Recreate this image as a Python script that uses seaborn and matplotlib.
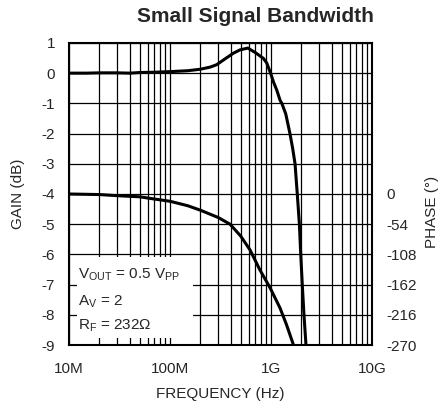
import matplotlib
matplotlib.use("Agg")
import matplotlib.pyplot as plt
from matplotlib.patches import Rectangle
from matplotlib.ticker import LogLocator, FixedLocator, FixedFormatter, NullFormatter
import seaborn as sns
import pandas as pd

# Gain response (frequency in Hz, gain in dB)
gain_freq = [10e6, 15e6, 20e6, 30e6, 40e6, 50e6, 70e6, 100e6, 150e6, 200e6,
             250e6, 290e6, 350e6, 424e6, 493e6, 590e6, 700e6, 840e6, 906e6,
             990e6, 1.06e9, 1.14e9, 1.23e9, 1.28e9, 1.40e9, 1.54e9, 1.64e9,
             1.73e9, 1.82e9, 1.91e9, 1.97e9, 2.04e9, 2.12e9, 2.22e9]
gain_db = [0.00, 0.00, 0.01, 0.01, 0.00, 0.02, 0.03, 0.05, 0.08, 0.13,
           0.20, 0.28, 0.47, 0.66, 0.77, 0.83, 0.68, 0.49, 0.34,
           0.00, -0.30, -0.56, -0.90, -1.00, -1.35, -2.00, -2.50,
           -3.00, -4.00, -5.00, -6.00, -7.00, -8.00, -9.00]

# Phase response (frequency in Hz, phase in degrees)
phase_freq = [10e6, 20e6, 30e6, 50e6, 70e6, 100e6, 150e6, 200e6, 300e6,
              393e6, 500e6, 620e6, 778e6, 940e6, 1.0e9, 1.23e9, 1.42e9,
              1.67e9]
phase_deg = [0, -1, -3, -5, -9, -13, -21, -29, -42,
             -54, -75, -100, -136, -162, -171, -204, -233,
             -270]

gain_ticks = [1, 0, -1, -2, -3, -4, -5, -6, -7, -8, -9]
phase_ticks = [0, -54, -108, -162, -216, -270]
freq_ticks = [10e6, 100e6, 1e9, 10e9]
freq_labels = ["10M", "100M", "1G", "10G"]

sns.set_style("white")
plt.rcParams["font.family"] = ["Liberation Sans", "DejaVu Sans"]
plt.rcParams["axes.unicode_minus"] = False
plt.rcParams["mathtext.fontset"] = "custom"
plt.rcParams["mathtext.rm"] = "Liberation Sans"
plt.rcParams["mathtext.it"] = "Liberation Sans"

gain_df = pd.DataFrame({"freq": gain_freq, "gain": gain_db})
phase_df = pd.DataFrame({"freq": phase_freq, "phase": phase_deg})

fig = plt.figure(figsize=(4.46, 4.05), dpi=100)
ax = fig.add_axes([0.1547, 0.148, 0.6794, 0.746])

sns.lineplot(data=gain_df, x="freq", y="gain", ax=ax, color="black",
             linewidth=2.2, zorder=5)
ax.set_xscale("log")
ax.set_ylim(-9, 1)
ax.set_yticks(gain_ticks)
ax.set_yticklabels([str(t) for t in gain_ticks])
for sp in ax.spines.values():
    sp.set_color("black")
    sp.set_linewidth(1.5)
ax.set_ylabel("GAIN (dB)", fontsize=11, labelpad=12)

# Conditions box in the lower-left corner
ax.add_patch(Rectangle((0.025, 0.023), 0.384, 0.268, transform=ax.transAxes,
                       facecolor="white", edgecolor="none", zorder=3))
cond = ["V$_{\\mathrm{OUT}}$ = 0.5 V$_{\\mathrm{PP}}$",
        "A$_{\\mathrm{V}}$ = 2",
        "R$_{\\mathrm{F}}$ = 232\u03a9"]
for txt, yy in zip(cond, [0.2185, 0.132, 0.0497]):
    ax.text(0.03, yy, txt, transform=ax.transAxes, fontsize=11,
            va="baseline", ha="left", zorder=4)

ax2 = ax.twinx()
sns.lineplot(data=phase_df, x="freq", y="phase", ax=ax2, color="black",
             linewidth=2.2)
ax2.set_ylim(-270, 270)
ax2.set_yticks(phase_ticks)
ax2.set_yticklabels([str(t) for t in phase_ticks])
ax2.tick_params(axis="y", length=0, labelsize=11, pad=10)
ax2.set_ylabel("PHASE (\u00b0)", fontsize=11)
ax2.yaxis.set_label_coords(1.175, 0.44)
for sp in ax2.spines.values():
    sp.set_visible(False)

# Shared frequency axis: decade labels, minor grid at 2..9
ax.set_xlim(10e6, 10e9)
ax.xaxis.set_major_locator(FixedLocator(freq_ticks))
ax.xaxis.set_major_formatter(FixedFormatter(freq_labels))
ax.xaxis.set_minor_locator(LogLocator(base=10, subs=range(2, 10)))
ax.xaxis.set_minor_formatter(NullFormatter())
ax.grid(True, which="both", axis="x", color="black", linewidth=0.9)
ax.grid(True, which="major", axis="y", color="black", linewidth=0.9)
ax.set_axisbelow(True)
ax.tick_params(axis="both", which="both", length=0, labelsize=11)
ax.tick_params(axis="y", pad=10)
ax.tick_params(axis="x", pad=12)
ax.set_xlabel("FREQUENCY (Hz)", fontsize=11, labelpad=8)

fig.text(255 / 446, 1 - 17 / 405, "Small Signal Bandwidth", fontsize=15,
         fontweight="bold", ha="center", va="center")

fig.savefig("out.png", dpi=100)
